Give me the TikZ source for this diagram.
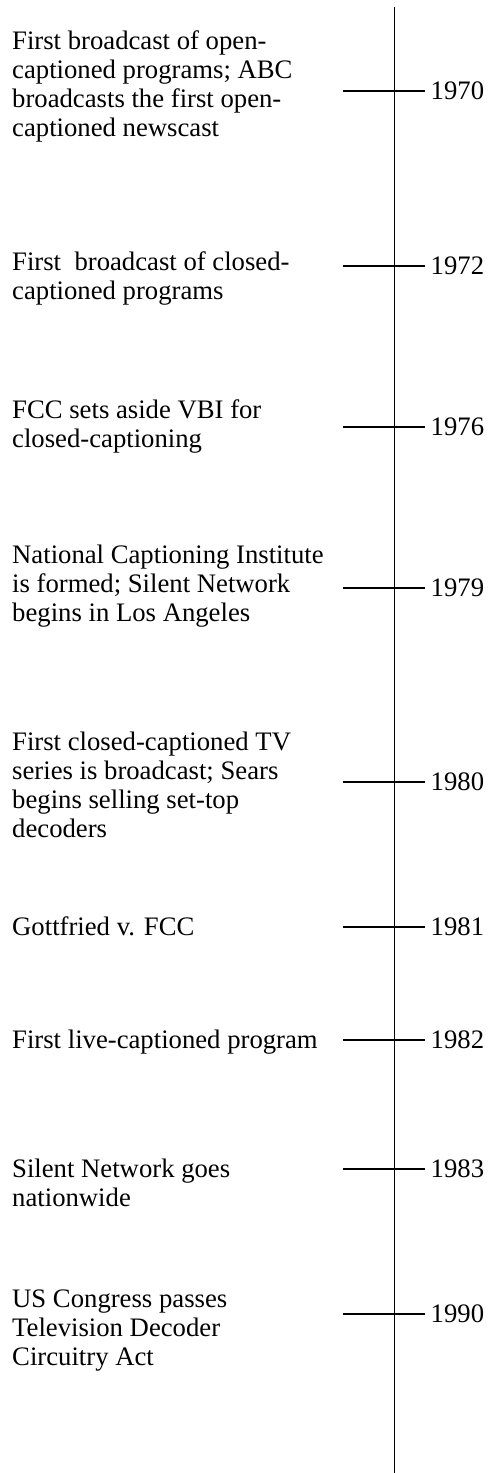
\documentclass[tikz,border=0pt]{standalone}
\usepackage{fontspec}
\setmainfont{Liberation Serif}
% stacked lines whose baseline is that of the first line
\newcommand{\evstack}[1]{\vtop{#1}}
\begin{document}
\begin{tikzpicture}[x=1pt,y=-1pt,
  axisline/.style={line width=1.9pt,black},
  tickline/.style={line width=1.9pt,black},
  event/.style={anchor=base west,inner sep=0pt,
    font=\fontsize{26.7}{29.3}\selectfont},
  yearlabel/.style={anchor=west,inner sep=0pt,
    font=\fontsize{26.7}{29.3}\selectfont}]
\useasboundingbox (0,0) rectangle (491,1473);

% main axis
\coordinate (axtop) at (394.5,7);
\coordinate (axbot) at (394.5,1473);
\draw[axisline] (axtop) -- (axbot);

% points on the axis for each year
\coordinate (p70) at (394.5,91);
\coordinate (p72) at (394.5,266);
\coordinate (p76) at (394.5,427);
\coordinate (p79) at (394.5,588);
\coordinate (p80) at (394.5,782);
\coordinate (p81) at (394.5,927);
\coordinate (p82) at (394.5,1040);
\coordinate (p83) at (394.5,1169);
\coordinate (p90) at (394.5,1314);

% ticks and year labels
\foreach \p/\yr in {p70/1970,p72/1972,p76/1976,p79/1979,p80/1980,p81/1981,p82/1982,p83/1983,p90/1990}{
  \draw[tickline] ([xshift=-51.5pt]\p) -- ([xshift=30.5pt]\p);
  \node[yearlabel] (y\yr) at ([xshift=36pt]\p) {\yr};
}

% event descriptions
\node[event] (e70) at (12,49) {\evstack{\hbox{First broadcast of open-}\hbox{captioned programs; ABC}\hbox{broadcasts the first open-}\hbox{captioned newscast}}};
\node[event] (e72) at (12,270) {\evstack{\hbox{First~~broadcast of closed-}\hbox{captioned programs}}};
\node[event] (e76) at (12,418) {\evstack{\hbox{FCC sets aside VBI for}\hbox{closed-captioning}}};
\node[event] (e79) at (12,563) {\evstack{\hbox{National Captioning Institute}\hbox{is formed; Silent Network}\hbox{begins in Los Angeles}}};
\node[event] (e80) at (12,750) {\evstack{\hbox{First closed-captioned TV}\hbox{series is broadcast; Sears}\hbox{begins selling set-top}\hbox{decoders}}};
\node[event] (e81) at (12,935) {Gottfried v. FCC};
\node[event] (e82) at (12,1048) {First live-captioned program};
\node[event] (e83) at (12,1177) {\evstack{\hbox{Silent Network goes}\hbox{nationwide}}};
\node[event] (e90) at (12,1307) {\evstack{\hbox{US Congress passes}\hbox{Television Decoder}\hbox{Circuitry Act}}};
\end{tikzpicture}
\end{document}
